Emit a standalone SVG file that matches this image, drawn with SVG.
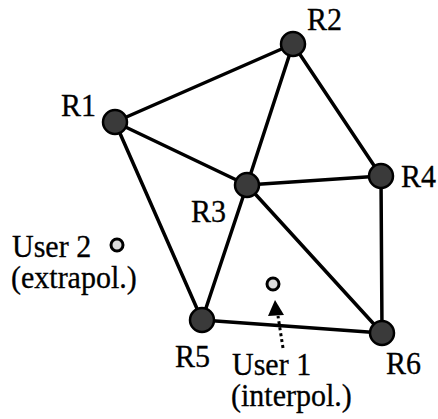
<svg xmlns="http://www.w3.org/2000/svg" width="438" height="419" viewBox="0 0 438 419">
<style>
.edge{stroke:#000;stroke-width:3.5;fill:none;stroke-linecap:round}
.router{fill:#3a3a3a;stroke:#000;stroke-width:2.5}
.user{fill:#dcdcdc;stroke:#000;stroke-width:3}
.lbl{font-family:"Liberation Serif","Times New Roman",serif;font-size:30px;fill:#000;stroke:#000;stroke-width:0.3}
.dot{stroke:#000;stroke-width:3;stroke-dasharray:3 3;fill:none}
</style>
<rect width="438" height="419" fill="#fff"/>
<g id="connectors">
<line class="edge" x1="115" y1="122" x2="293" y2="44"/>
<line class="edge" x1="115" y1="122" x2="247" y2="185"/>
<line class="edge" x1="115" y1="122" x2="202" y2="320"/>
<line class="edge" x1="293" y1="44" x2="247" y2="185"/>
<line class="edge" x1="293" y1="44" x2="381" y2="176"/>
<line class="edge" x1="247" y1="185" x2="381" y2="176"/>
<line class="edge" x1="247" y1="185" x2="202" y2="320"/>
<line class="edge" x1="247" y1="185" x2="382" y2="333"/>
<line class="edge" x1="381" y1="176" x2="382" y2="333"/>
<line class="edge" x1="202" y1="320" x2="382" y2="333"/>
<g id="arrow">
<line class="dot" x1="283" y1="348" x2="278" y2="316"/>
<path d="M275,300 L268,316 L284,315 z" fill="#000"/>
</g>
</g>
<g id="R1"><circle class="router" cx="115" cy="122" r="12"/><text class="lbl" transform="translate(61,116) scale(1,1.05)">R1</text></g>
<g id="R2"><circle class="router" cx="293" cy="44" r="12"/><text class="lbl" transform="translate(307,30) scale(1,1.05)">R2</text></g>
<g id="R3"><circle class="router" cx="247" cy="185" r="12"/><text class="lbl" transform="translate(191,222) scale(1,1.05)">R3</text></g>
<g id="R4"><circle class="router" cx="381" cy="176" r="12"/><text class="lbl" transform="translate(401,187) scale(1,1.05)">R4</text></g>
<g id="R5"><circle class="router" cx="202" cy="320" r="12"/><text class="lbl" transform="translate(175,367) scale(1,1.05)">R5</text></g>
<g id="R6"><circle class="router" cx="382" cy="333" r="12"/><text class="lbl" transform="translate(386,374) scale(1,1.05)">R6</text></g>
<g id="User2"><circle class="user" cx="117" cy="245" r="6"/><text class="lbl" transform="translate(12,257) scale(1,1.05)"><tspan x="0" y="0">User 2</tspan><tspan x="-1" dy="29.5">(extrapol.)</tspan></text></g>
<g id="User1"><circle class="user" cx="273" cy="284" r="6"/><text class="lbl" transform="translate(232,375) scale(1,1.05)"><tspan x="0" y="0">User 1</tspan><tspan x="-1" dy="29.5">(interpol.)</tspan></text></g>
</svg>
